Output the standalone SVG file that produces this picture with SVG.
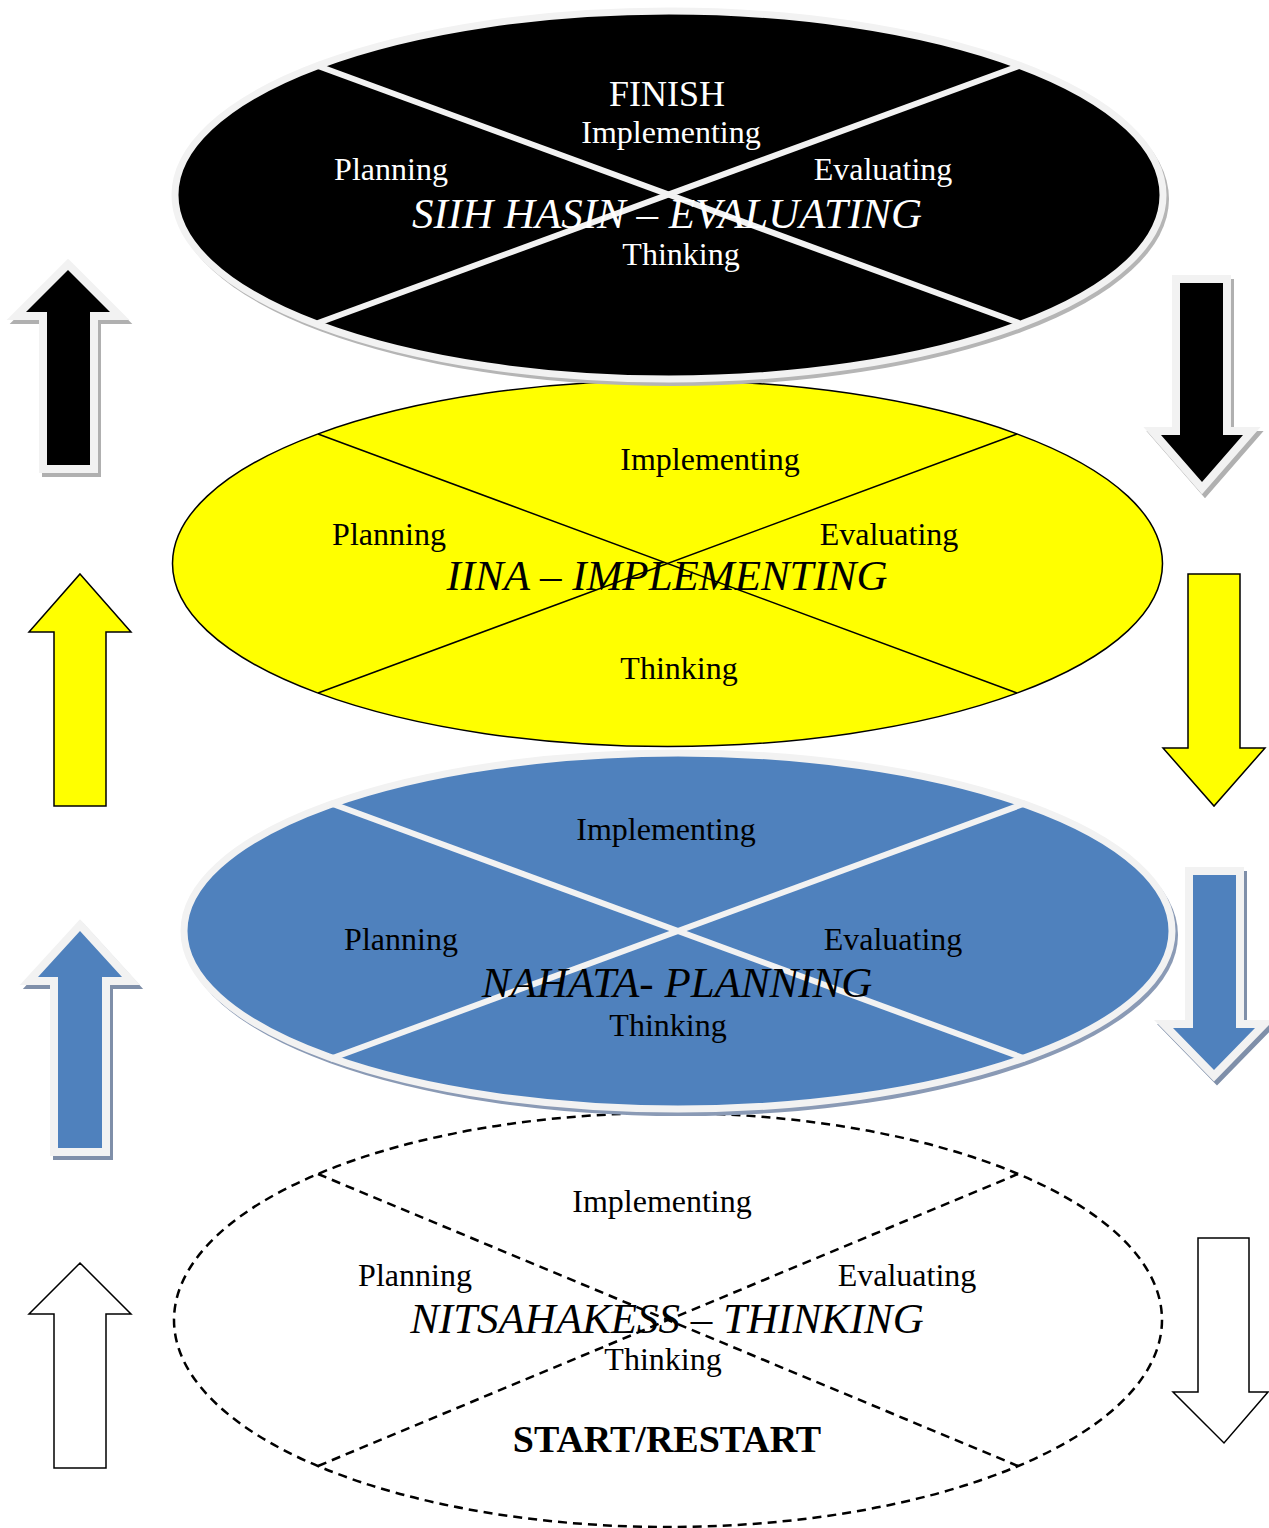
<svg xmlns="http://www.w3.org/2000/svg" width="1269" height="1528" viewBox="0 0 1269 1528">
<style>
.lbl{font-family:"Liberation Serif","Times New Roman",serif;font-size:32px;text-anchor:middle}
.ttl{font-family:"Liberation Serif","Times New Roman",serif;font-size:43px;font-style:italic;text-anchor:middle}
.w{fill:#ffffff}
.k{fill:#000000}
.gs{stroke:#f2f2f2;stroke-width:7}
.gl{stroke:#f2f2f2;stroke-width:6}
.bl{stroke:#000000;stroke-width:1.5}
.dash{fill:none;stroke:#000;stroke-width:2.5;stroke-dasharray:9 6}
.ga{stroke:#f2f2f2;stroke-width:16;paint-order:stroke;stroke-linejoin:miter;stroke-miterlimit:4}
.sh{stroke-width:16;stroke-linejoin:miter;stroke-miterlimit:4}
</style>
<rect width="1269" height="1528" fill="#ffffff"/>

<g id="ellipse-thinking">
  <ellipse cx="668" cy="1320" rx="494" ry="207" class="dash"/>
  <line x1="318" y1="1174" x2="1018" y2="1466" class="dash"/>
  <line x1="318" y1="1466" x2="1018" y2="1174" class="dash"/>
  <text x="662" y="1212" class="lbl k">Implementing</text>
  <text x="415" y="1286" class="lbl k">Planning</text>
  <text x="907" y="1286" class="lbl k">Evaluating</text>
  <text x="667" y="1333" class="ttl k">NITSAHAKESS – THINKING</text>
  <text x="663" y="1370" class="lbl k">Thinking</text>
  <text x="667" y="1452" font-family="Liberation Serif, Times New Roman, serif" font-size="38" font-weight="bold" text-anchor="middle" fill="#000">START/RESTART</text>
</g>

<g id="ellipse-planning">
  <ellipse cx="681" cy="935" rx="497" ry="181" fill="#8a9ab5"/>
  <ellipse cx="678" cy="931" rx="494" ry="178" fill="#4f81bd" class="gs"/>
  <line x1="330" y1="803" x2="1026" y2="1059" class="gl"/>
  <line x1="330" y1="1059" x2="1026" y2="803" class="gl"/>
  <text x="666" y="840" class="lbl k">Implementing</text>
  <text x="401" y="950" class="lbl k">Planning</text>
  <text x="893" y="950" class="lbl k">Evaluating</text>
  <text x="677" y="997" class="ttl k">NAHATA- PLANNING</text>
  <text x="668" y="1036" class="lbl k">Thinking</text>
</g>

<g id="ellipse-implementing">
  <ellipse cx="667.5" cy="563.5" rx="495" ry="183" fill="#ffff00" class="bl"/>
  <line x1="318" y1="434" x2="1017" y2="693" class="bl"/>
  <line x1="318" y1="693" x2="1017" y2="434" class="bl"/>
  <text x="710" y="470" class="lbl k">Implementing</text>
  <text x="389" y="545" class="lbl k">Planning</text>
  <text x="889" y="545" class="lbl k">Evaluating</text>
  <text x="667" y="590" class="ttl k">IINA – IMPLEMENTING</text>
  <text x="679" y="679" class="lbl k">Thinking</text>
</g>

<g id="ellipse-evaluating">
  <ellipse cx="672" cy="199" rx="497" ry="187" fill="#b5b5b5"/>
  <ellipse cx="669" cy="195" rx="494" ry="184" fill="#000000" class="gs"/>
  <line x1="318" y1="66" x2="1019" y2="323" class="gl"/>
  <line x1="318" y1="323" x2="1019" y2="66" class="gl"/>
  <text x="667" y="106" font-family="Liberation Serif, Times New Roman, serif" font-size="36" text-anchor="middle" fill="#fff">FINISH</text>
  <text x="671" y="143" class="lbl w">Implementing</text>
  <text x="391" y="180" class="lbl w">Planning</text>
  <text x="883" y="180" class="lbl w">Evaluating</text>
  <text x="667" y="228" class="ttl w">SIIH HASIN – EVALUATING</text>
  <text x="681" y="265" class="lbl w">Thinking</text>
</g>

<g id="connectors">
  <!-- left up arrows -->
  <path d="M68,270 L110,312 L90,312 L90,465 L47,465 L47,312 L26,312 Z" transform="translate(3,4)" fill="#b0b0b0" stroke="#b0b0b0" class="sh"/>
  <path d="M68,270 L110,312 L90,312 L90,465 L47,465 L47,312 L26,312 Z" fill="#000" class="ga"/>

  <path d="M80,574 L131,632 L106,632 L106,806 L54,806 L54,632 L29,632 Z" fill="#ffff00" class="bl"/>

  <path d="M80,931 L122,977 L102,977 L102,1148 L58,1148 L58,977 L38,977 Z" transform="translate(3,4)" fill="#7f8fa9" stroke="#7f8fa9" class="sh"/>
  <path d="M80,931 L122,977 L102,977 L102,1148 L58,1148 L58,977 L38,977 Z" fill="#4f81bd" class="ga"/>

  <path d="M80,1263 L131,1314 L106,1314 L106,1468 L54,1468 L54,1314 L29,1314 Z" fill="#fff" class="bl"/>

  <!-- right down arrows -->
  <path d="M1180,283 L1223,283 L1223,435 L1243,435 L1202,482 L1161,435 L1180,435 Z" transform="translate(3,4)" fill="#b0b0b0" stroke="#b0b0b0" class="sh"/>
  <path d="M1180,283 L1223,283 L1223,435 L1243,435 L1202,482 L1161,435 L1180,435 Z" fill="#000" class="ga"/>

  <path d="M1188,574 L1240,574 L1240,748 L1265,748 L1214,806 L1163,748 L1188,748 Z" fill="#ffff00" class="bl"/>

  <path d="M1193,875 L1236,875 L1236,1028 L1255,1028 L1214,1070 L1173,1028 L1193,1028 Z" transform="translate(3,4)" fill="#7f8fa9" stroke="#7f8fa9" class="sh"/>
  <path d="M1193,875 L1236,875 L1236,1028 L1255,1028 L1214,1070 L1173,1028 L1193,1028 Z" fill="#4f81bd" class="ga"/>

  <path d="M1198,1238 L1249,1238 L1249,1392 L1268,1392 L1224,1443 L1173,1392 L1198,1392 Z" fill="#fff" class="bl"/>
</g>
</svg>
